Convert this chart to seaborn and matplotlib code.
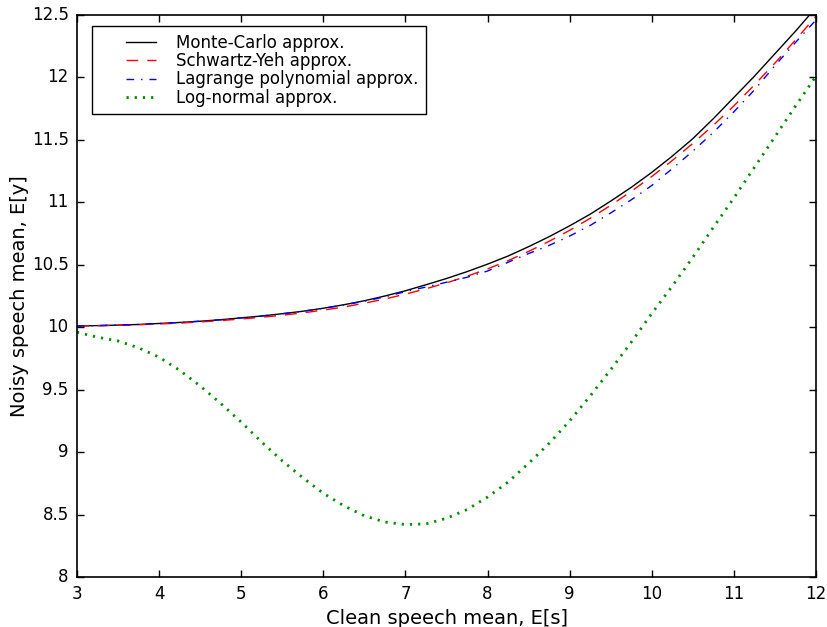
import matplotlib
matplotlib.use("Agg")
import matplotlib.pyplot as plt
import seaborn as sns
import pandas as pd
from matplotlib.legend_handler import HandlerLine2D
from matplotlib.lines import Line2D

# ---- data ----
x_up = [3.0, 3.25, 3.5, 3.75, 4.0, 4.25, 4.5, 4.75, 5.0, 5.25, 5.5, 5.75, 6.0, 6.25, 6.5, 6.75, 7.0, 7.25, 7.5,
        7.75, 8.0, 8.25, 8.5, 8.75, 9.0, 9.25, 9.5, 9.75, 10.0, 10.25, 10.5, 10.75, 11.0, 11.25, 11.5, 11.75, 12.0]
monte_carlo = [10.010, 10.013, 10.017, 10.022, 10.030, 10.038, 10.048, 10.060, 10.075, 10.090, 10.108, 10.128,
               10.152, 10.180, 10.212, 10.250, 10.292, 10.340, 10.390, 10.445, 10.505, 10.570, 10.645, 10.725,
               10.812, 10.905, 11.010, 11.120, 11.240, 11.370, 11.510, 11.670, 11.840, 12.010, 12.190, 12.370, 12.560]
schwartz_yeh = [10.010, 10.012, 10.015, 10.020, 10.026, 10.033, 10.042, 10.053, 10.066, 10.080, 10.096, 10.115,
                10.137, 10.162, 10.192, 10.226, 10.265, 10.308, 10.355, 10.408, 10.467, 10.533, 10.607, 10.688,
                10.776, 10.872, 10.976, 11.088, 11.207, 11.335, 11.472, 11.617, 11.772, 11.940, 12.115, 12.300, 12.490]
lagrange = [10.010, 10.013, 10.017, 10.022, 10.030, 10.038, 10.048, 10.060, 10.075, 10.090, 10.108, 10.128,
            10.151, 10.178, 10.208, 10.243, 10.285, 10.322, 10.360, 10.400, 10.450, 10.520, 10.590, 10.655,
            10.730, 10.815, 10.915, 11.020, 11.135, 11.270, 11.410, 11.560, 11.725, 11.900, 12.095, 12.280, 12.460]

x_ln = [3.0, 3.25, 3.5, 3.75, 4.0, 4.25, 4.5, 4.75, 5.0, 5.25, 5.5, 5.75, 6.0, 6.25, 6.5, 6.75, 7.0, 7.25, 7.5,
        7.75, 8.0, 8.25, 8.5, 8.75, 9.0, 9.25, 9.5, 9.75, 10.0, 10.25, 10.5, 10.75, 11.0, 11.25, 11.5, 11.75, 12.0]
log_normal = [9.96, 9.92, 9.89, 9.835, 9.76, 9.655, 9.53, 9.39, 9.24, 9.08, 8.93, 8.795, 8.67, 8.57, 8.49, 8.44, 8.42, 8.425, 8.47,
              8.54, 8.64, 8.76, 8.91, 9.07, 9.25, 9.45, 9.66, 9.88, 10.11, 10.33, 10.56, 10.80, 11.035, 11.28, 11.525, 11.77, 12.01]

labels = ["Monte-Carlo approx.", "Schwartz-Yeh approx.", "Lagrange polynomial approx.", "Log-normal approx."]
x_ticks = [3, 4, 5, 6, 7, 8, 9, 10, 11, 12]
y_ticks = [8, 8.5, 9, 9.5, 10, 10.5, 11, 11.5, 12, 12.5]
y_tick_labels = ["8", "8.5", "9", "9.5", "10", "10.5", "11", "11.5", "12", "12.5"]
x_label = "Clean speech mean, E[s]"
y_label = "Noisy speech mean, E[y]"

# ---- style ----
plt.style.use("classic")
plt.rcParams["font.family"] = ["DejaVu Sans"]
plt.rcParams["savefig.facecolor"] = "white"
plt.rcParams["lines.scale_dashes"] = False

fig = plt.figure(figsize=(8.27, 6.27), dpi=100, facecolor="white")
ax = fig.add_axes([77 / 827, 50 / 627, 739 / 827, 562 / 627])
ax.set_facecolor("white")

df_up = pd.DataFrame({"x": x_up, "mc": monte_carlo, "sy": schwartz_yeh, "lg": lagrange})
df_ln = pd.DataFrame({"x": x_ln, "ln": log_normal})

sns.lineplot(data=df_up, x="x", y="mc", ax=ax, color="black", linewidth=1.0,
             linestyle="-", label=labels[0])
sns.lineplot(data=df_up, x="x", y="sy", ax=ax, color="red", linewidth=1.0,
             linestyle=(0, (8.5, 6.5)), label=labels[1])
sns.lineplot(data=df_up, x="x", y="lg", ax=ax, color="blue", linewidth=1.0,
             linestyle=(0, (5.5, 5, 1, 5)), label=labels[2])
sns.lineplot(data=df_ln, x="x", y="ln", ax=ax, color=(0, 0.55, 0), linewidth=2.0,
             linestyle=(0, (1.6, 4.3)), label=labels[3])

ax.set_xlim(3, 12)
ax.set_ylim(8, 12.5)
ax.set_xticks(x_ticks)
ax.set_xticklabels([str(t) for t in x_ticks])
ax.set_yticks(y_ticks)
ax.set_yticklabels(y_tick_labels)
ax.tick_params(direction="in", length=5, width=1, labelsize=12, top=True, right=True, pad=6)
ax.minorticks_off()
for s in ax.spines.values():
    s.set_linewidth(1.2)
ax.set_xlabel(x_label, fontsize=14, labelpad=4)
ax.set_ylabel(y_label, fontsize=14, labelpad=2)
ax.grid(False)


class OffsetLineHandler(HandlerLine2D):
    def create_artists(self, legend, orig_handle, xdescent, ydescent, width, height, fontsize, trans):
        shift = width * 0.36
        return super().create_artists(legend, orig_handle, xdescent - shift, ydescent,
                                      width - shift, height, fontsize, trans)


leg = ax.legend(loc="upper left", bbox_to_anchor=(0.02, 0.98), borderaxespad=0,
                fontsize=12, frameon=True, fancybox=False, shadow=False,
                handlelength=3.7, handletextpad=0.9, borderpad=0.45, labelspacing=0.02,
                numpoints=2, handler_map={Line2D: OffsetLineHandler()})
leg.get_frame().set_edgecolor("black")
leg.get_frame().set_linewidth(1.0)
leg.get_frame().set_facecolor("white")

fig.savefig("out.png", dpi=100, facecolor="white")
